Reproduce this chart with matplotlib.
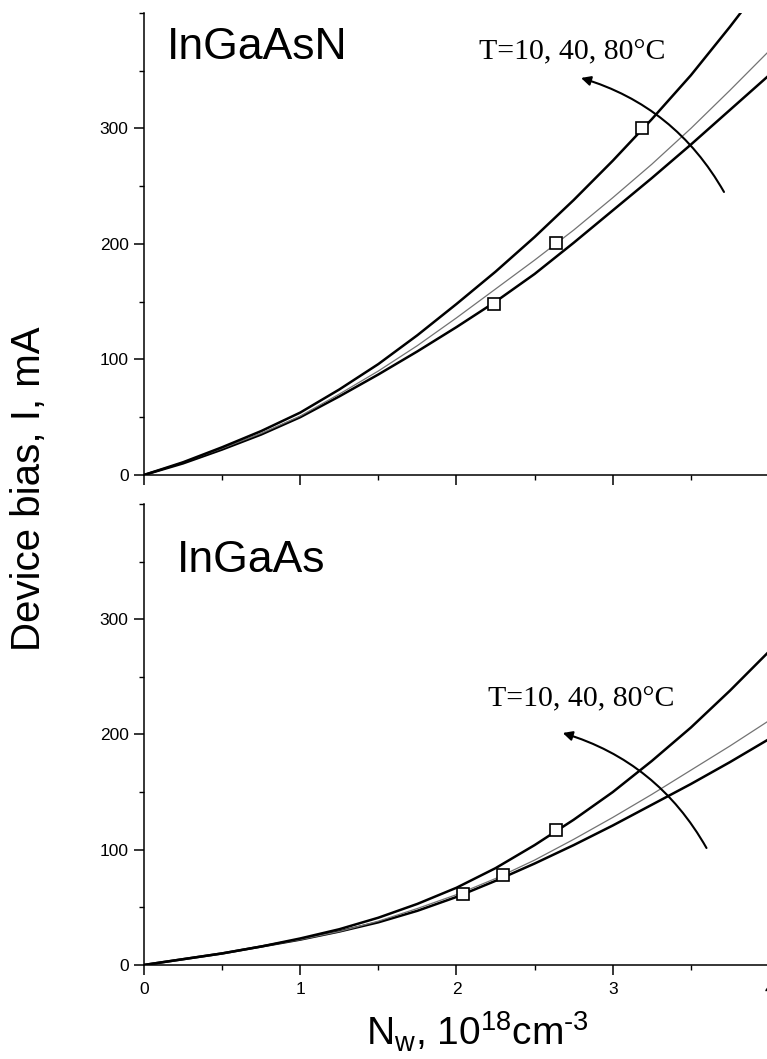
import numpy as np
import matplotlib.pyplot as plt
from matplotlib.ticker import MultipleLocator

plt.rcParams['font.family'] = ['Liberation Sans', 'DejaVu Sans']
plt.rcParams['mathtext.default'] = 'regular'

# carrier density, 10^18 cm^-3
nw = [0, 0.25, 0.5, 0.75, 1.0, 1.25, 1.5, 1.75, 2.0, 2.25, 2.5, 2.75,
      3.0, 3.25, 3.5, 3.75, 4.0]

# InGaAsN, current in mA (T = 80, 40, 10 C)
ingaasn_80 = [0, 11, 24, 38, 54, 74, 96, 121, 148, 176, 206, 238, 272, 308, 346, 388, 432]
ingaasn_40 = [0, 11, 23, 36, 51, 70, 90, 112, 136, 161, 186, 212, 240, 269, 300, 333, 367]
ingaasn_10 = [0, 10, 22, 35, 50, 68, 87, 107, 128, 150, 174, 201, 229, 257, 286, 316, 346]
ingaasn_pts_x = [3.19, 2.64, 2.24]
ingaasn_pts_y = [300, 201, 148]

# InGaAs
ingaas_80 = [0, 5, 10, 16, 23, 31, 41, 53, 67, 84, 104, 126, 150, 177, 206, 238, 272]
ingaas_40 = [0, 5, 10, 16, 22, 29, 38, 49, 61, 75, 91, 109, 128, 148, 169, 190, 212]
ingaas_10 = [0, 5, 10, 16, 22, 29, 37, 47, 59, 73, 88, 104, 121, 139, 157, 176, 196]
ingaas_pts_x = [2.64, 2.30, 2.04]
ingaas_pts_y = [117, 78, 62]

fig = plt.figure(figsize=(7.67, 10.59), dpi=100)
ax1 = fig.add_axes([0.1877, 0.5515, 0.8149, 0.4363])
ax2 = fig.add_axes([0.1877, 0.0888, 0.8149, 0.4353])


def style_axes(ax, show_xlabels):
    ax.set_xlim(0, 4)
    ax.set_ylim(0, 400)
    for s in ['top', 'right']:
        ax.spines[s].set_visible(False)
    for s in ['left', 'bottom']:
        ax.spines[s].set_linewidth(1.1)
    ax.xaxis.set_major_locator(MultipleLocator(1))
    ax.xaxis.set_minor_locator(MultipleLocator(0.5))
    ax.yaxis.set_major_locator(MultipleLocator(100))
    ax.yaxis.set_minor_locator(MultipleLocator(50))
    ax.set_yticks([0, 100, 200, 300])
    ax.tick_params(which='major', direction='out', length=7, width=1.1,
                   labelsize=12.5, pad=4)
    ax.tick_params(which='minor', direction='out', length=3.5, width=1.0)
    ax.tick_params(axis='x', pad=5)
    if not show_xlabels:
        ax.tick_params(axis='x', labelbottom=False)


def draw_panel(ax, x, hi, mid, lo, px, py):
    ax.plot(x, lo, color='black', lw=1.8, zorder=3)
    ax.plot(x, mid, color='0.45', lw=0.9, zorder=3)
    ax.plot(x, hi, color='black', lw=1.8, zorder=3)
    ax.plot(px, py, 's', ms=9, mfc='white', mec='black', mew=1.2,
            linestyle='none', zorder=4)


style_axes(ax1, False)
style_axes(ax2, True)
draw_panel(ax1, nw, ingaasn_80, ingaasn_40, ingaasn_10, ingaasn_pts_x, ingaasn_pts_y)
draw_panel(ax2, nw, ingaas_80, ingaas_40, ingaas_10, ingaas_pts_x, ingaas_pts_y)

ax1.text(0.147, 360, 'InGaAsN', fontsize=32, va='baseline')
ax2.text(0.21, 341, 'InGaAs', fontsize=32, va='baseline')

serif = ['Liberation Serif', 'DejaVu Serif']
ax1.text(2.144, 360, 'T=10, 40, 80°C', fontsize=21.5, family=serif, va='baseline')
ax2.text(2.20, 224, 'T=10, 40, 80°C', fontsize=21.5, family=serif, va='baseline')

arrow = dict(arrowstyle='-|>', connectionstyle='arc3,rad=0.2', lw=1.5,
             color='black', mutation_scale=14, shrinkA=0, shrinkB=0)
ax1.annotate('', xy=(2.797, 343.7), xytext=(3.712, 245), arrowprops=arrow)
ax2.annotate('', xy=(2.68, 201.3), xytext=(3.60, 101.5), arrowprops=arrow)

fig.text(0.038, 0.539, 'Device bias, I, mA', rotation=90, fontsize=29,
         ha='center', va='center')
fig.text(0.623, 0.0123, 'N$_{w}$, 10$^{18}$cm$^{\u20103}$', fontsize=28,
         ha='center', va='baseline')

fig.savefig('out.png', dpi=100)
